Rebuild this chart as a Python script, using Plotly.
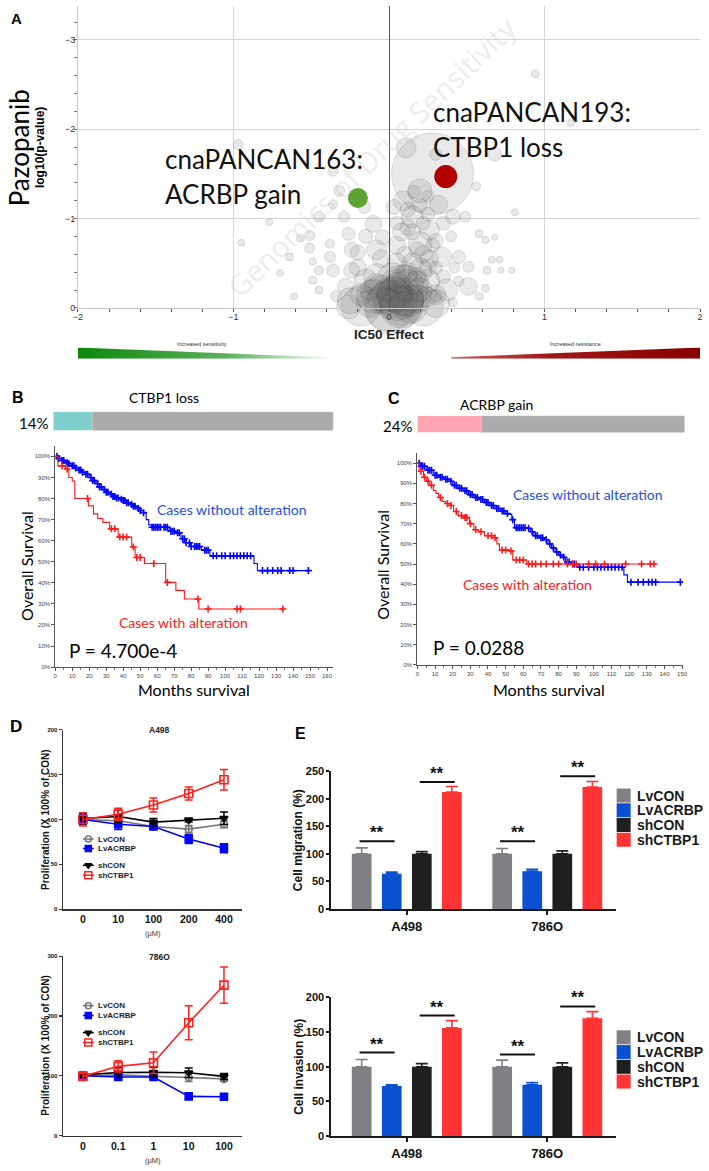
import numpy as np
import plotly.graph_objects as go

W, H = 709, 1171
ARIAL = "Liberation Sans, Arial, sans-serif"
CAL = "Lato, Open Sans, sans-serif"

# ---------------- Panel A : drug-sensitivity volcano ----------------
bubble_ic50 = [0.94, 1.17, 0.68, 0.56, 0.81, 0.28, 0.11, 0.30, 0.20, 0.15, 0.32, 0.26, 0.41, 0.49,
               0.20, 0.34, 0.45, 0.51, 0.58, 0.62, 0.68, 0.66, 0.71, 0.63, 0.72, 0.79, 0.51, 0.62,
               0.58, 0.37, 0.09, 0.05, -0.10, 0.20, 0.05, -0.08, -0.10, -0.04, -0.16, 0.30, 0.41,
               0.09, 0.03,
               -0.97, -0.77, -0.95, -0.61, -0.51, -0.51, -0.57, -0.36, -0.32, -0.36, -0.45, -0.26,
               -0.38, -0.36, -0.45, -0.49, -0.45, -0.28, -0.34, -0.49, -0.26, -0.24, -0.24, -0.38,
               -0.29, -0.64, -0.70,
               -0.15, -0.05, 0.02, 0.12, 0.18, 0.25, 0.08, -0.12, 0.30, -0.20, 0.15, 0.22, 0.05,
               -0.05, 0.00, 0.10, 0.05, -0.08, 0.14, -0.02, 0.10, 0.25, -0.18, 0.20, 0.35, 0.30,
               0.15, 0.35, 0.25, 0.12, 0.05, -0.15, -0.20, 0.40, 0.42, 0.45, 0.02, 0.08,
               0.12, 0.22, 0.18, 0.28, 0.10, 0.30, 0.20, 0.16, 0.25, 0.06, -0.02, 0.14, 0.24,
               0.00, 0.06, 0.12, -0.06, 0.18, -0.12, 0.03, 0.09,
               -0.18, 0.22, 0.30, -0.25, 0.04, 0.12, -0.08, 0.18, 0.26, 0.08]
bubble_logp = [-2.62, -2.07, -1.72, -1.36, -1.07, -1.50, -1.79, -1.72, -1.31, -1.02, -1.16, -0.87,
               -1.02, -1.02, -0.72, -0.57, -0.57, -0.46, -0.83, -0.76, -0.79, -0.54, -0.54, -0.42,
               -0.42, -0.42, -0.24, -0.22, -0.13, -0.20, -0.20, -0.06, -0.13, -0.42, -0.50, -0.65,
               -0.94, -0.79, -1.13, -0.13, -0.06, -1.20, -1.13,
               -1.83, -0.96, -0.73, -0.13, -0.67, -0.81, -0.78, -1.53, -1.31, -1.16, -1.02, -0.83,
               -0.57, -0.42, -0.42, -0.31, -0.20, -0.24, -0.13, -0.52, -0.01, -0.42, -0.65, -0.72,
               -1.02, -0.57, -0.39,
               -0.30, -0.15, -0.35, -0.25, -0.10, -0.30, -0.05, -0.05, -0.15, -0.45, -0.50, -0.60,
               -0.70, -0.55, -0.02, -0.12, -0.20, -0.25, -0.02, -0.08, -0.35, -0.45, -0.15, -0.20,
               -0.35, -0.75, -0.85, -0.95, -1.05, -1.10, -0.95, -0.80, -0.62, -0.80, -0.45, -0.30,
               -0.01, -0.01,
               -0.90, -0.95, -0.65, -0.70, -0.60, -0.45, -1.15, -1.30, -1.25, -0.30, -0.20, -0.10,
               -0.12, -0.05, -0.28, -0.40, -0.10, -0.35, -0.20, -0.15, -0.03,
               -0.02, -0.02, -0.05, -0.08, -0.15, -0.08, -0.35, -0.28, -0.55, -0.85]
bubble_n = [8, 7, 14, 9, 7, 82, 20, 12, 24, 22, 18, 20, 15, 11, 24, 20, 13, 11, 8, 7, 6, 7, 7, 8,
            6, 6, 18, 8, 8, 22, 50, 36, 34, 24, 20, 20, 17, 15, 13, 12, 9, 20, 15,
            10, 7, 7, 7, 10, 10, 8, 10, 11, 9, 11, 13, 11, 13, 9, 8, 8, 16, 11, 7, 24, 16, 15, 9,
            11, 8, 7,
            24, 38, 28, 32, 28, 24, 44, 28, 20, 17, 21, 18, 18, 18, 50, 38, 32, 24, 34, 26, 24, 17,
            22, 24, 14, 15, 16, 14, 14, 15, 14, 14, 15, 11, 11, 10, 54, 42,
            16, 14, 16, 14, 16, 13, 14, 13, 12, 24, 22, 26, 20, 30, 22, 20, 24, 18, 20, 34, 28,
            40, 40, 28, 26, 36, 32, 26, 24, 18, 18]

hit_ic50 = [-0.20, 0.365]
hit_logp = [-1.23, -1.47]
hit_line1 = ["cnaPANCAN163:", "cnaPANCAN193:"]
hit_line2 = ["ACRBP gain", "CTBP1 loss"]

# ---------------- Panels B / C : Kaplan-Meier ----------------
ctbp1_loss_pct = 14
acrbp_gain_pct = 24

b_wo_t = [0, 2, 4, 6, 8, 10, 12, 14, 16, 18, 20, 22, 24, 26, 28, 30, 32, 34, 36, 38, 40, 42, 44,
          46, 48, 50, 52, 53.5, 55, 57, 67, 71, 74, 77, 80, 86, 91, 117, 119, 149]
b_wo_s = [100, 99, 98, 97, 96.5, 95.5, 94.5, 93.5, 92.5, 91.5, 90, 88.5, 87, 85.5, 84.2, 83, 82,
          81, 80.3, 79.7, 79, 78, 77.2, 76.3, 75.3, 74.3, 73.3, 70, 67.5, 66.4, 64.5, 63.7, 60.9,
          59, 57.2, 55.5, 52.8, 49.2, 45.8, 45.8]
b_wo_cens = [1, 2, 4, 5, 7, 8, 10, 11, 12, 14, 15, 16, 18, 19, 21, 22, 23, 25, 26, 27, 29, 30, 31,
             33, 34, 35, 36, 37, 39, 40, 41, 42, 43, 45, 46, 47, 49, 50, 52, 57, 58, 59, 60, 61, 62,
             64, 65, 66, 68, 69, 70, 72, 73, 75, 76, 77, 79, 80, 82, 83, 84, 85, 88, 89, 90, 93, 95,
             98, 100, 103, 105, 107, 109, 111, 113, 115, 122, 125, 128, 131, 133, 138, 140, 149]
b_w_t = [0, 1.5, 6, 8, 10, 11.5, 19.5, 22.5, 25, 28, 32, 37, 45, 47, 52.5, 65, 71, 76, 84.5, 134]
b_w_s = [100, 95.5, 94, 90, 88.3, 80, 76.5, 72.7, 70.5, 68.7, 65.6, 61.7, 57, 52, 49.2, 40.2, 36.4,
         32.3, 27.6, 27.6]
b_w_cens = [4, 7, 19, 33, 35, 38, 40, 42, 46, 48, 50, 58, 66, 84, 90, 107, 109, 134]

c_wo_t = [0, 2, 5, 9, 12, 15, 18, 20, 23, 26, 29, 32, 35, 38, 41, 44, 47, 50, 52, 53.5, 55, 62, 64,
          66, 69, 72, 74, 76, 78, 80, 82, 84, 87, 91, 117, 119, 149]
c_wo_s = [100, 98.5, 96.5, 94, 93, 92, 91, 89, 87.5, 86.3, 84.4, 83, 82, 80.5, 79, 77.5, 76.3, 75,
          74.6, 72, 68, 67.7, 66, 64, 63, 62, 60, 58, 56, 54.5, 53.3, 51, 50, 48.4, 44.6, 41, 41]
c_wo_cens = [1, 2, 3, 4, 6, 7, 8, 10, 11, 13, 14, 16, 17, 19, 21, 22, 24, 25, 27, 28, 30, 31, 33,
             34, 36, 37, 39, 40, 42, 43, 45, 46, 48, 49, 51, 54, 56, 57, 58, 59, 60, 61, 63, 65, 67,
             68, 70, 71, 73, 75, 77, 79, 81, 83, 85, 86, 88, 89, 92, 94, 97, 100, 102, 104, 106,
             108, 110, 112, 114, 116, 121, 125, 128, 131, 133, 135, 149]
c_w_t = [0, 1, 3.5, 5, 7, 9, 10.5, 12, 14, 16, 18, 20.5, 23, 26, 29.5, 32, 34.5, 38, 43, 45, 46.5,
         52, 54, 62, 134]
c_w_s = [100, 96, 93, 91, 89, 86.5, 85, 83, 81, 80, 79, 76, 74, 73, 70, 67, 66, 64, 63, 60, 57,
         56.5, 52, 50, 50]
c_w_cens = [2, 4, 6, 8, 13, 17, 19, 22, 25, 27, 28, 30, 33, 36, 40, 42, 44, 48, 50, 53, 56, 58, 60,
            63, 65, 67, 70, 73, 77, 80, 85, 88, 90, 97, 101, 106, 118, 127, 132, 134]

# ---------------- Panel D : proliferation ----------------
series_names = ["LvCON", "LvACRBP", "shCON", "shCTBP1"]
a498_doses = ["0", "10", "100", "200", "400"]
a498_lvcon = [100, 98.5, 92.2, 89.2, 94.7]
a498_lvcon_err = [5, 4, 3, 4, 4]
a498_lvacrbp = [100, 94.7, 92.2, 78.2, 68]
a498_lvacrbp_err = [5, 6, 3, 5, 5]
a498_shcon = [101, 103.2, 97, 99.2, 101.3]
a498_shcon_err = [6, 7, 4, 2, 7]
a498_shctbp1 = [100, 105.7, 116, 128.8, 144.2]
a498_shctbp1_err = [7.3, 6.6, 7.7, 7.3, 11.4]
a498_star_x = ["100", "200", "400", "200", "400"]
a498_star_y = [131.5, 146, 161.5, 68, 80]
a498_star_t = ["**", "**", "**", "*", "**"]

o786_doses = ["0", "0.1", "1", "10", "100"]
o786_lvcon = [100, 101.5, 99.2, 97.5, 94.8]
o786_lvcon_err = [4, 5, 5, 7, 4]
o786_lvacrbp = [100, 98, 98, 65.6, 65]
o786_lvacrbp_err = [3, 3, 3, 4, 2]
o786_shcon = [101.6, 105.5, 106, 105, 99]
o786_shcon_err = [4, 8, 8, 8, 5]
o786_shctbp1 = [99, 115.8, 121.8, 188.6, 251.5]
o786_shctbp1_err = [5, 9.4, 18, 28.4, 30.3]
o786_star_x = ["10", "100", "10", "100"]
o786_star_y = [224, 289, 76.6, 75]
o786_star_t = ["**", "**", "**", "**"]

# ---------------- Panel E : migration / invasion ----------------
cell_lines = ["A498", "786O"]
mig_lvcon = [100, 100]
mig_lvcon_err = [10.7, 9.6]
mig_lvacrbp = [64, 68.2]
mig_lvacrbp_err = [3, 3.6]
mig_shcon = [100, 100]
mig_shcon_err = [4, 5.4]
mig_shctbp1 = [212, 221]
mig_shctbp1_err = [10, 10]
mig_sig_lv = [122.7, 122.7]
mig_sig_sh = [230, 240.7]

inv_lvcon = [100, 100]
inv_lvcon_err = [10.5, 9.5]
inv_lvacrbp = [72, 74]
inv_lvacrbp_err = [2, 3]
inv_shcon = [100, 100]
inv_shcon_err = [4.5, 5.5]
inv_shctbp1 = [156, 170]
inv_shctbp1_err = [10.5, 9.5]
inv_sig_lv = [120.5, 117.6]
inv_sig_sh = [173.8, 187]

# ================= helpers =================
def xd(a, b):
    return [a / W, b / W]


def yd(top, bottom):
    return [1 - bottom / H, 1 - top / H]


def px(x):
    return x / W


def py(y):
    return 1 - y / H


def step_at(times, surv, pts):
    t = np.asarray(times, dtype=float)
    s = np.asarray(surv, dtype=float)
    idx = np.searchsorted(t, np.asarray(pts, dtype=float), side="right") - 1
    return s[idx].tolist()


annotations = []
shapes = []


def ann(text, x, y, size, family=ARIAL, color="#000", bold=False, xanchor="center",
        yanchor="middle", angle=0):
    annotations.append(dict(text=text, x=px(x), y=py(y), xref="paper", yref="paper",
                            showarrow=False, textangle=angle, xanchor=xanchor, yanchor=yanchor,
                            font=dict(family=family, size=size, color=color,
                                      weight="bold" if bold else "normal")))


fig = go.Figure()

# ---------------- Panel A traces ----------------
fig.add_trace(go.Scatter(
    x=bubble_ic50, y=bubble_logp, mode="markers", xaxis="x", yaxis="y", cliponaxis=False,
    marker=dict(size=bubble_n, sizemode="diameter", color="rgba(95,95,95,0.19)",
                line=dict(color="rgba(55,55,55,0.30)", width=0.7)),
    hoverinfo="skip"))
fig.add_trace(go.Scatter(x=[hit_ic50[0]], y=[hit_logp[0]], mode="markers", xaxis="x", yaxis="y",
                         marker=dict(size=20, color="#5da232", line=dict(width=0))))
fig.add_trace(go.Scatter(x=[hit_ic50[1]], y=[hit_logp[1]], mode="markers", xaxis="x", yaxis="y",
                         marker=dict(size=23, color="#b00000", line=dict(width=0))))

# gradient wedges under A
fig.add_trace(go.Scatter(x=[-2, -2, -0.4, -0.4], y=[0, 1, 0.13, 0], fill="toself", mode="lines",
                         line=dict(width=0), xaxis="x2", yaxis="y2",
                         fillgradient=dict(type="horizontal",
                                           colorscale=[[0, "#0c870c"], [0.6, "#5bb25b"], [1, "#eef7ee"]])))
fig.add_trace(go.Scatter(x=[0.4, 0.4, 2, 2], y=[0, 0.13, 1, 0], fill="toself", mode="lines",
                         line=dict(width=0), xaxis="x2", yaxis="y2",
                         fillgradient=dict(type="horizontal",
                                           colorscale=[[0, "#c85a5a"], [0.4, "#a01818"], [1, "#860000"]])))

# ---------------- Panels B / C ----------------
def alt_bar(pct, color, xa, ya):
    fig.add_trace(go.Bar(x=[pct], y=[0], base=[0], orientation="h", width=[1], offset=-0.5,
                         marker=dict(color=color, line=dict(width=0)), xaxis=xa, yaxis=ya))
    fig.add_trace(go.Bar(x=[100 - pct], y=[0], base=[pct], orientation="h", width=[1], offset=-0.5,
                         marker=dict(color="#ababab", line=dict(color="#c4c4c4", width=1)),
                         xaxis=xa, yaxis=ya))


alt_bar(ctbp1_loss_pct, "#7fcfcd", "x3", "y3")
alt_bar(acrbp_gain_pct, "#ffa4b2", "x5", "y5")


def km(t, s, cens, color, xa, ya):
    fig.add_trace(go.Scatter(x=t, y=s, mode="lines", line=dict(shape="hv", color=color, width=1.1),
                             xaxis=xa, yaxis=ya))
    fig.add_trace(go.Scatter(x=cens, y=step_at(t, s, cens), mode="markers", xaxis=xa, yaxis=ya,
                             marker=dict(symbol="cross-thin", size=5,
                                         line=dict(color=color, width=1.6))))


km(b_wo_t, b_wo_s, b_wo_cens, "#0000ff", "x4", "y4")
km(b_w_t, b_w_s, b_w_cens, "#ff1a1a", "x4", "y4")
km(c_wo_t, c_wo_s, c_wo_cens, "#0000ff", "x6", "y6")
km(c_w_t, c_w_s, c_w_cens, "#ff1a1a", "x6", "y6")

# ---------------- Panel D ----------------
d_colors = ["#777777", "#0000ff", "#000000", "#ff2020"]
d_symbols = ["circle-open", "square", "triangle-down", "square-open"]
d_sizes = [7, 7, 7, 8]


def prolif(doses, vals, errs, i, xa, ya):
    fig.add_trace(go.Scatter(
        x=doses, y=vals, mode="lines+markers", xaxis=xa, yaxis=ya,
        line=dict(color=d_colors[i], width=1.6),
        marker=dict(symbol=d_symbols[i], size=d_sizes[i], color=d_colors[i],
                    line=dict(color=d_colors[i], width=1.6)),
        error_y=dict(type="data", array=errs, color=d_colors[i], thickness=1.5, width=4)))


for i, (v, e) in enumerate([(a498_lvcon, a498_lvcon_err), (a498_lvacrbp, a498_lvacrbp_err),
                            (a498_shcon, a498_shcon_err), (a498_shctbp1, a498_shctbp1_err)]):
    prolif(a498_doses, v, e, i, "x7", "y7")
for i, (v, e) in enumerate([(o786_lvcon, o786_lvcon_err), (o786_lvacrbp, o786_lvacrbp_err),
                            (o786_shcon, o786_shcon_err), (o786_shctbp1, o786_shctbp1_err)]):
    prolif(o786_doses, v, e, i, "x8", "y8")

for xs, ys, ts, xr, yr in [(a498_star_x, a498_star_y, a498_star_t, "x7", "y7"),
                           (o786_star_x, o786_star_y, o786_star_t, "x8", "y8")]:
    for xx, yy, tt in zip(xs, ys, ts):
        annotations.append(dict(text=tt, x=xx, y=yy, xref=xr, yref=yr, showarrow=False,
                                yshift=-2, font=dict(family=ARIAL, size=9, color="#222",
                                                     weight="bold")))

# ---------------- Panel E ----------------
e_colors = ["#7f7f84", "#0c50d2", "#1f1f1f", "#ff3434"]
group_pos = [0, 1]
BARGAP, GROUPGAP = 0.144, 0.344
slot = (1 - BARGAP) / 4
offs = [(-1.5 + k) * slot for k in range(4)]


def bars(vals_list, errs_list, xa, ya):
    for k, (v, e) in enumerate(zip(vals_list, errs_list)):
        fig.add_trace(go.Bar(x=group_pos, y=v, xaxis=xa, yaxis=ya,
                             marker=dict(color=e_colors[k], line=dict(width=0)),
                             error_y=dict(type="data", symmetric=False, array=e,
                                          arrayminus=[0] * len(e), color=e_colors[k],
                                          thickness=1.6, width=6)))


bars([mig_lvcon, mig_lvacrbp, mig_shcon, mig_shctbp1],
     [mig_lvcon_err, mig_lvacrbp_err, mig_shcon_err, mig_shctbp1_err], "x9", "y9")
bars([inv_lvcon, inv_lvacrbp, inv_shcon, inv_shctbp1],
     [inv_lvcon_err, inv_lvacrbp_err, inv_shcon_err, inv_shctbp1_err], "x10", "y10")

for sig_lv, sig_sh, xr, yr in [(mig_sig_lv, mig_sig_sh, "x9", "y9"),
                                (inv_sig_lv, inv_sig_sh, "x10", "y10")]:
    for g, gp in enumerate(group_pos):
        for (a, b), yy in [((0, 1), sig_lv[g]), ((2, 3), sig_sh[g])]:
            x0 = gp + offs[a] - 0.015
            x1 = gp + offs[b] + 0.02
            shapes.append(dict(type="line", xref=xr, yref=yr, x0=x0, x1=x1, y0=yy, y1=yy,
                               line=dict(color="#111", width=2)))
            annotations.append(dict(text="**", x=(x0 + x1) / 2, y=yy, xref=xr, yref=yr,
                                    showarrow=False, yanchor="bottom", yshift=-3,
                                    font=dict(family=ARIAL, size=17, color="#111",
                                              weight="bold")))

# ---------------- manual legends (pixel overlay axis) ----------------
def d_legend(top, offsets):
    for i, name in enumerate(series_names):
        yy = top + offsets[i]
        fig.add_trace(go.Scatter(x=[79, 90], y=[yy, yy], mode="lines", xaxis="x11", yaxis="y11",
                                 line=dict(color=d_colors[i], width=1.5)))
        fig.add_trace(go.Scatter(x=[84.5], y=[yy], mode="markers", xaxis="x11", yaxis="y11",
                                 marker=dict(symbol=d_symbols[i], size=d_sizes[i] - 1,
                                             color=d_colors[i],
                                             line=dict(color=d_colors[i], width=1.5))))
        ann(name, 92, yy, 8, bold=True, xanchor="left", color="#222")


d_legend(841.7, [0, 9.5, 26.5, 36.5])
d_legend(1010, [0, 10, 27.3, 37.3])


def e_legend(top, step):
    for k, name in enumerate(series_names):
        yy = top + k * step
        fig.add_trace(go.Scatter(x=[627.5], y=[yy], mode="markers", xaxis="x11", yaxis="y11",
                                 marker=dict(symbol="square", size=14, color=e_colors[k],
                                             line=dict(width=0))))
        ann(name, 639, yy, 14, bold=True, xanchor="left", color="#1a1a1a")


e_legend(797.7, 14.9)
e_legend(1042, 14.9)

# ---------------- text annotations ----------------
# A
ann("A", 12, 13, 15, bold=True)
ann("Genomics of Drug Sensitivity", 372, 152, 29, family="Open Sans, sans-serif",
    color="rgba(190,190,190,0.30)", angle=-44)
ann("Pazopanib", 14, 143, 26, family=CAL, angle=-90)
ann("log10(p-value)", 35, 143, 12, bold=True, angle=-90)
ann("IC50 Effect", 389, 332, 13.5, bold=True, color="#222")
ann("Increased sensitivity", 200, 342, 5.5, color="#333")
ann("Increased resistance", 579, 342, 5.5, color="#333")
ann(hit_line1[0], 160, 155, 26, family=CAL, xanchor="left", color="#111")
ann(hit_line2[0], 160, 190, 26, family=CAL, xanchor="left", color="#111")
ann(hit_line1[1], 432, 107, 26, family=CAL, xanchor="left", color="#111")
ann(hit_line2[1], 432, 142, 26, family=CAL, xanchor="left", color="#111")

# B
ann("B", 13, 396, 16, bold=True)
ann("CTBP1 loss", 161, 396, 14, family=CAL)
ann(f"{ctbp1_loss_pct}%", 29, 421, 15, family=CAL)
ann("Cases without alteration", 230, 509, 14, family=CAL, color="#1f4fe0")
ann("Cases with alteration", 181, 623, 14, family=CAL, color="#ff2020")
ann("P = 4.700e-4", 120, 651, 19, family=CAL)
ann("Overall Survival", 22, 566, 16, family=CAL, angle=-90)
ann("Months survival", 192, 691, 16, family=CAL)

# C
ann("C", 395, 397, 16, bold=True)
ann("ACRBP gain", 498.5, 403, 14, family=CAL)
ann(f"{acrbp_gain_pct}%", 398.5, 424, 15, family=CAL)
ann("Cases without alteration", 591, 494, 14, family=CAL, color="#1f4fe0")
ann("Cases with alteration", 530, 584, 14, family=CAL, color="#ff2020")
ann("P = 0.0288", 480, 648, 19, family=CAL)
ann("Overall Survival", 383, 565, 16, family=CAL, angle=-90)
ann("Months survival", 552, 691, 16, family=CAL)

# D
ann("D", 11, 728, 17, bold=True)
ann("A498", 157, 731, 8.5, bold=True, color="#222")
ann("786O", 157, 961, 8.5, bold=True, color="#222")
ann("Proliferation (X 100% of CON)", 41, 822, 10, bold=True, angle=-90, color="#111")
ann("Proliferation (X 100% of CON)", 41, 1050, 10, bold=True, angle=-90, color="#111")
ann("(μM)", 150, 937, 7.5, color="#333")
ann("(μM)", 150, 1166, 7.5, color="#333")

# E
ann("E", 300, 735, 16, bold=True)
ann("Cell migration (%)", 298, 843, 12, bold=True, angle=-90, color="#111")
ann("Cell invasion (%)", 298, 1072, 12, bold=True, angle=-90, color="#111")

# ---------------- axes ----------------
hidden = dict(visible=False, showgrid=False, zeroline=False, fixedrange=True)
km_tick = dict(family=ARIAL, size=6, color="#444")
d_ax = dict(showline=True, linecolor="#333", linewidth=1.5, showgrid=False, zeroline=False)
e_ax = dict(showline=True, linecolor="#1a1a1a", linewidth=2, showgrid=False, zeroline=False)
e_tick = dict(family=ARIAL, size=11, color="#111", weight="bold")

layout = dict(
    width=W, height=H, margin=dict(l=0, r=0, t=0, b=0, pad=0),
    paper_bgcolor="white", plot_bgcolor="rgba(0,0,0,0)", showlegend=False,
    barmode="group", bargap=BARGAP, bargroupgap=GROUPGAP,
    annotations=annotations, shapes=shapes,
    xaxis=dict(domain=xd(74, 705), range=[-2, 2], anchor="y", tickvals=[-2, -1, 0, 1, 2],
               showgrid=True, gridcolor="#d4d4d4", gridwidth=1, zeroline=True,
               zerolinecolor="#5a5a5a", zerolinewidth=1, showline=True, linecolor="#c8c8c8",
               ticks="", tickfont=dict(family=ARIAL, size=9, color="#333"),
               minor=dict(dtick=0.2, ticks="outside", ticklen=3, tickcolor="#555",
                          showgrid=False)),
    yaxis=dict(domain=yd(0, 305), range=[0, -3.38], anchor="x", tickvals=[0, -1, -2, -3],
               showgrid=True, gridcolor="#d4d4d4", gridwidth=1, zeroline=False, showline=True,
               linecolor="#c8c8c8", ticks="", tickfont=dict(family=ARIAL, size=9, color="#333"),
               minor=dict(dtick=0.2, ticks="outside", ticklen=3, tickcolor="#777",
                          showgrid=False)),
    xaxis2=dict(domain=xd(74, 705), range=[-2, 2], anchor="y2", **hidden),
    yaxis2=dict(domain=yd(345, 356.5), range=[0, 1], anchor="x2", **hidden),
    xaxis3=dict(domain=xd(49, 333), range=[0, 100], anchor="y3", **hidden),
    yaxis3=dict(domain=yd(410, 429), range=[-0.5, 0.5], anchor="x3", **hidden),
    xaxis5=dict(domain=xd(418.3, 689.3), range=[0, 100], anchor="y5", **hidden),
    yaxis5=dict(domain=yd(414, 431), range=[-0.5, 0.5], anchor="x5", **hidden),
    xaxis4=dict(domain=xd(51, 333), range=[0, 163.7], anchor="y4", tickvals=list(range(0, 161, 10)),
                showline=True, linecolor="#555", linewidth=1, ticks="outside", ticklen=3,
                tickcolor="#555", showgrid=False, zeroline=False, tickfont=km_tick,
                minor=dict(dtick=5, ticks="outside", ticklen=2, tickcolor="#777")),
    yaxis4=dict(domain=yd(445, 668), range=[0, 104.7], anchor="x4",
                tickvals=list(range(0, 101, 10)), ticktext=[f"{v}%" for v in range(0, 101, 10)],
                showline=True, linecolor="#555", linewidth=1, ticks="outside", ticklen=3,
                tickcolor="#555", showgrid=False, zeroline=False, tickfont=km_tick),
    xaxis6=dict(domain=xd(418.3, 687.7), range=[0, 150.5], anchor="y6",
                tickvals=list(range(0, 151, 10)), showline=True, linecolor="#555", linewidth=1,
                ticks="outside", ticklen=3, tickcolor="#555", showgrid=False, zeroline=False,
                tickfont=km_tick, minor=dict(dtick=5, ticks="outside", ticklen=2, tickcolor="#777")),
    yaxis6=dict(domain=yd(451.7, 665.7), range=[0, 105], anchor="x6",
                tickvals=list(range(0, 101, 10)), ticktext=[f"{v}%" for v in range(0, 101, 10)],
                showline=True, linecolor="#555", linewidth=1, ticks="outside", ticklen=3,
                tickcolor="#555", showgrid=False, zeroline=False, tickfont=km_tick),
    xaxis7=dict(domain=xd(59, 240), type="category", categoryorder="array",
                categoryarray=a498_doses, range=[-0.56, 4.5], anchor="y7", ticks="",
                tickfont=dict(family=ARIAL, size=10.5, color="#111", weight="bold"), **d_ax),
    yaxis7=dict(domain=yd(731, 912.7), range=[0, 200], anchor="x7", tickvals=[0, 50, 100, 150, 200],
                ticks="outside", ticklen=3, tickwidth=1.2, tickcolor="#333",
                tickfont=dict(family=ARIAL, size=6, color="#111", weight="bold"), **d_ax),
    xaxis8=dict(domain=xd(59, 240), type="category", categoryorder="array",
                categoryarray=o786_doses, range=[-0.56, 4.5], anchor="y8", ticks="",
                tickfont=dict(family=ARIAL, size=10.5, color="#111", weight="bold"), **d_ax),
    yaxis8=dict(domain=yd(960, 1141.3), range=[0, 300], anchor="x8", tickvals=[0, 100, 200, 300],
                ticks="outside", ticklen=3, tickwidth=1.2, tickcolor="#333",
                tickfont=dict(family=ARIAL, size=6, color="#111", weight="bold"), **d_ax),
    xaxis9=dict(domain=xd(331, 620), range=[-0.537, 1.491], anchor="y9", tickvals=group_pos,
                ticktext=cell_lines, ticks="outside", ticklen=4, tickwidth=2, tickcolor="#1a1a1a",
                tickfont=dict(family=ARIAL, size=13, color="#111", weight="bold"), **e_ax),
    yaxis9=dict(domain=yd(773, 912.3), range=[0, 250], anchor="x9", dtick=50, ticks="outside",
                ticklen=3, tickwidth=2, tickcolor="#1a1a1a", tickfont=e_tick, **e_ax),
    xaxis10=dict(domain=xd(331, 620), range=[-0.537, 1.491], anchor="y10", tickvals=group_pos,
                 ticktext=cell_lines, ticks="outside", ticklen=4, tickwidth=2, tickcolor="#1a1a1a",
                 tickfont=dict(family=ARIAL, size=13, color="#111", weight="bold"), **e_ax),
    yaxis10=dict(domain=yd(1001.7, 1141.7), range=[0, 200], anchor="x10", dtick=50,
                 ticks="outside", ticklen=3, tickwidth=2, tickcolor="#1a1a1a", tickfont=e_tick,
                 **e_ax),
    xaxis11=dict(domain=[0, 1], range=[0, W], anchor="y11", **hidden),
    yaxis11=dict(domain=[0, 1], range=[H, 0], anchor="x11", **hidden),
)
fig.update_layout(**layout)
fig.update_traces(showlegend=False, hoverinfo="skip")

fig.write_html("out.html", include_plotlyjs=True, full_html=True,
               config={"displayModeBar": False, "staticPlot": True},
               post_script="document.body.style.margin='0';")
